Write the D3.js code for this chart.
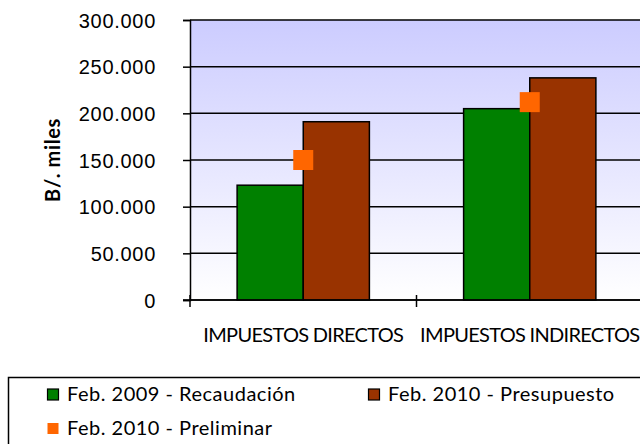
<!DOCTYPE html>
<html>
<head>
<meta charset="utf-8">
<script src="https://cdn.jsdelivr.net/npm/d3@7"></script>
<style>
  body { margin: 0; background: #fff; }
  svg { display: block; font-family: Lato, "Open Sans", sans-serif; }
  .tick text { font-size: 20px; fill: #000; letter-spacing: 0.7px; }
  .xlabel { font-size: 20px; letter-spacing: -0.7px; }
  .legend text { font-size: 20px; letter-spacing: 0.5px; }
</style>
</head>
<body>
<svg class="chart"></svg>
<script>
const categories = ["IMPUESTOS DIRECTOS", "IMPUESTOS INDIRECTOS"];
const seriesNames = ["Feb. 2009 - Recaudación", "Feb. 2010 - Presupuesto"];
const recaudacion2009 = [123000, 205000];
const presupuesto2010 = [191000, 238000];
const preliminarName = "Feb. 2010 - Preliminar";
const preliminar2010 = [150000, 212000];
const yTicks = [0, 50000, 100000, 150000, 200000, 250000, 300000];
const colors = ["#008000", "#993300"];
const markerColor = "#ff6600";

const margin = {top: 20, right: -3, bottom: 144, left: 190}
  , width = 640
  , height = 444;

const svg = d3.select(".chart")
  .attr("width", width)
  .attr("height", height);

const grad = svg.append("defs").append("linearGradient")
  .attr("id", "bg")
  .attr("x1", 0).attr("y1", 0).attr("x2", 0).attr("y2", 1);
grad.append("stop").attr("offset", "0%").attr("stop-color", "#ccccff");
grad.append("stop").attr("offset", "100%").attr("stop-color", "#ffffff");

const x0 = d3.scaleBand()
  .domain(categories)
  .range([margin.left, width - margin.right])
  .padding(0);

const bw = x0.bandwidth();
const x1 = d3.scaleBand()
  .domain(seriesNames)
  .range([bw * 0.208, bw * 0.792])
  .padding(0);

const y = d3.scaleLinear()
  .domain([0, 300000])
  .range([height - margin.bottom, margin.top]);

const fmt = d3.formatLocale({decimal: ",", thousands: ".", grouping: [3], currency: ["", ""]}).format(",");

// plot background
svg.append("rect")
  .attr("x", margin.left)
  .attr("y", margin.top)
  .attr("width", width - margin.right - margin.left)
  .attr("height", y(0) - margin.top)
  .attr("fill", "url(#bg)");

// gridlines
svg.append("g")
  .selectAll("line")
  .data(yTicks)
  .enter().append("line")
  .attr("x1", margin.left)
  .attr("x2", width - margin.right)
  .attr("y1", d => y(d))
  .attr("y2", d => y(d))
  .attr("stroke", "#000")
  .attr("stroke-width", 1.5);

// bars
const rows = categories.map((c, i) => ({cat: c, values: [recaudacion2009[i], presupuesto2010[i]]}));

const groups = svg.append("g")
  .selectAll("g")
  .data(rows)
  .enter().append("g")
  .attr("transform", d => "translate(" + x0(d.cat) + ",0)");

groups.selectAll("rect")
  .data(d => d.values.map((v, j) => ({name: seriesNames[j], value: v, color: colors[j]})))
  .enter().append("rect")
  .attr("x", d => x1(d.name))
  .attr("width", x1.bandwidth())
  .attr("y", d => y(d.value))
  .attr("height", d => y(0) - y(d.value))
  .attr("fill", d => d.color)
  .attr("stroke", "#000")
  .attr("stroke-width", 1.5);

// y axis
const yAxis = d3.axisLeft(y)
  .tickValues(yTicks)
  .tickFormat(fmt)
  .tickSize(7)
  .tickPadding(27);

const yg = svg.append("g")
  .attr("transform", "translate(" + margin.left + ",0)")
  .call(yAxis);
yg.select(".domain").attr("stroke-width", 1.5);
yg.selectAll(".tick line").attr("stroke-width", 1.5);
yg.selectAll(".tick text").attr("dy", "0.36em");

// x axis
svg.append("line")
  .attr("x1", margin.left - 7)
  .attr("x2", width - margin.right)
  .attr("y1", y(0))
  .attr("y2", y(0))
  .attr("stroke", "#000")
  .attr("stroke-width", 1.5);

const boundaries = [0, 1, 2].map(i => margin.left + i * bw);
svg.append("g")
  .selectAll("line")
  .data(boundaries)
  .enter().append("line")
  .attr("x1", d => d).attr("x2", d => d)
  .attr("y1", y(0) - 5).attr("y2", y(0) + 7)
  .attr("stroke", "#000")
  .attr("stroke-width", 1.5);

svg.append("g")
  .selectAll("text")
  .data(categories)
  .enter().append("text")
  .attr("class", "xlabel")
  .attr("x", d => x0(d) + bw / 2)
  .attr("y", 342)
  .attr("text-anchor", "middle")
  .text(d => d);

// preliminar markers
svg.append("g")
  .selectAll("rect")
  .data(categories.map((c, i) => ({cat: c, value: preliminar2010[i]})))
  .enter().append("rect")
  .attr("x", d => x0(d.cat) + bw / 2 - 10)
  .attr("y", d => y(d.value) - 10)
  .attr("width", 20)
  .attr("height", 20)
  .attr("fill", markerColor);

// y title
svg.append("text")
  .attr("transform", "translate(60," + (margin.top + (y(0) - margin.top) / 2) + ") rotate(-90)")
  .attr("text-anchor", "middle")
  .attr("font-size", "20px")
  .attr("font-weight", "bold")
  .attr("letter-spacing", "0.6px")
  .text("B/. miles");

// legend
const legend = svg.append("g").attr("class", "legend");
legend.append("rect")
  .attr("x", 8.5)
  .attr("y", 377.5)
  .attr("width", 640)
  .attr("height", 100)
  .attr("fill", "#fff")
  .attr("stroke", "#000")
  .attr("stroke-width", 1.5);

const legendItems = [
  {name: seriesNames[0], color: colors[0], stroke: true, x: 47, y: 401},
  {name: seriesNames[1], color: colors[1], stroke: true, x: 368, y: 401},
  {name: preliminarName, color: markerColor, stroke: false, x: 47, y: 435}
];

const li = legend.selectAll("g.item")
  .data(legendItems)
  .enter().append("g")
  .attr("class", "item");

li.append("rect")
  .attr("x", d => d.x + 0.5)
  .attr("y", d => d.y - 12)
  .attr("width", 11)
  .attr("height", 11)
  .attr("fill", d => d.color)
  .attr("stroke", d => d.stroke ? "#000" : "none")
  .attr("stroke-width", 1.2);

li.append("text")
  .attr("x", d => d.x + 20)
  .attr("y", d => d.y)
  .text(d => d.name);
</script>
</body>
</html>
